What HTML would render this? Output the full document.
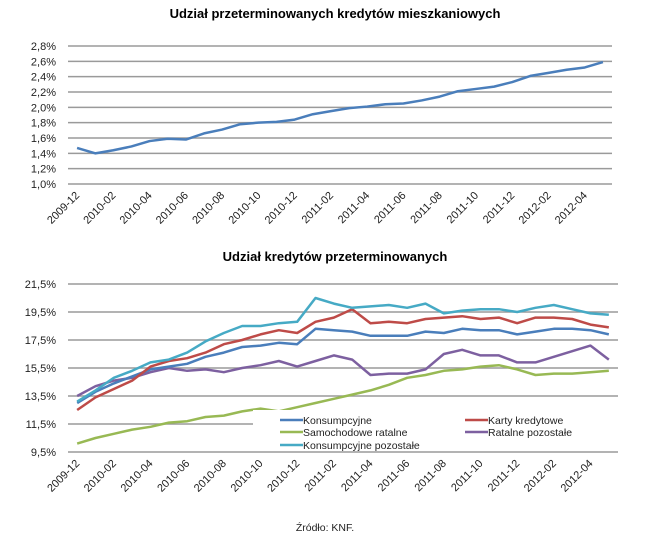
<!DOCTYPE html>
<html><head><meta charset="utf-8"><style>
body{margin:0;background:#fff;}
svg{display:block;font-family:"Liberation Sans",sans-serif;}
</style></head><body>
<svg id="c" width="670" height="546"></svg>
<script>
const cats=["2009-12","2010-01","2010-02","2010-03","2010-04","2010-05","2010-06","2010-07","2010-08","2010-09","2010-10","2010-11","2010-12","2011-01","2011-02","2011-03","2011-04","2011-05","2011-06","2011-07","2011-08","2011-09","2011-10","2011-11","2011-12","2012-01","2012-02","2012-03","2012-04","2012-05"];
const mortgage=[1.47,1.40,1.44,1.49,1.56,1.59,1.58,1.66,1.71,1.78,1.80,1.81,1.84,1.91,1.95,1.99,2.01,2.04,2.05,2.09,2.14,2.21,2.24,2.27,2.33,2.41,2.45,2.49,2.52,2.59];
const topTicks=[1.0,1.2,1.4,1.6,1.8,2.0,2.2,2.4,2.6,2.8];
const konsumpcyjne=[13.0,13.8,14.4,14.9,15.4,15.6,15.8,16.3,16.6,17.0,17.1,17.3,17.2,18.3,18.2,18.1,17.8,17.8,17.8,18.1,18.0,18.3,18.2,18.2,17.9,18.1,18.3,18.3,18.2,17.9];
const karty=[12.5,13.4,14.0,14.6,15.6,16.0,16.2,16.6,17.2,17.5,17.9,18.2,18.0,18.8,19.1,19.7,18.7,18.8,18.7,19.0,19.1,19.2,19.0,19.1,18.7,19.1,19.1,19.0,18.6,18.4];
const samochodowe=[10.1,10.5,10.8,11.1,11.3,11.6,11.7,12.0,12.1,12.4,12.6,12.4,12.7,13.0,13.3,13.6,13.9,14.3,14.8,15.0,15.3,15.4,15.6,15.7,15.4,15.0,15.1,15.1,15.2,15.3];
const ratalne=[13.5,14.2,14.6,14.8,15.2,15.5,15.3,15.4,15.2,15.5,15.7,16.0,15.6,16.0,16.4,16.1,15.0,15.1,15.1,15.4,16.5,16.8,16.4,16.4,15.9,15.9,16.3,16.7,17.1,16.1];
const konsPoz=[13.1,13.9,14.8,15.3,15.9,16.1,16.6,17.4,18.0,18.5,18.5,18.7,18.8,20.5,20.1,19.8,19.9,20.0,19.8,20.1,19.4,19.6,19.7,19.7,19.5,19.8,20.0,19.7,19.4,19.3];
const botTicks=[9.5,11.5,13.5,15.5,17.5,19.5,21.5];

const svg=document.getElementById('c');const NS="http://www.w3.org/2000/svg";
function mk(t,a,txt){const e=document.createElementNS(NS,t);for(const k in a)e.setAttribute(k,a[k]);if(txt!==undefined)e.textContent=txt;svg.appendChild(e);return e;}
function fmt(v,d){return v.toFixed(d).replace('.',',')+'%';}

function chart(o){
  const xs=i=>o.x0+(o.x1-o.x0)*(i+0.5)/cats.length;
  const ys=v=>o.y1-(v-o.vmin)/(o.vmax-o.vmin)*(o.y1-o.y0);
  o.ticks.forEach(t=>{
    const g=mk('line',{x1:o.x0,x2:o.x1,y1:ys(t),y2:ys(t),stroke:'#9a9a9a','stroke-width':1.5});
    
    
    const l=mk('text',{x:o.x0-12,y:ys(t)+4,'text-anchor':'end','font-size':11,fill:'#222'},fmt(t,o.dec));
    
    
  });
  cats.forEach((c,i)=>{if(i%2)return;
    const x=xs(i)+3,y=o.y1+12;
    const l=mk('text',{x:x,y:y,'text-anchor':'end','font-size':11,fill:'#222',transform:`rotate(-45 ${x} ${y})`},c);
    
    
  });
  return {xs,ys};
}
function line(ax,vals,color,name){
  const p=mk('polyline',{points:vals.map((v,i)=>ax.xs(i)+','+ax.ys(v)).join(' '),fill:'none',stroke:color,'stroke-width':2.5,'stroke-linejoin':'round'});
  
  
}

let t=mk('text',{x:335,y:18,'text-anchor':'middle','font-size':13,'font-weight':'bold'},'Udział przeterminowanych kredytów mieszkaniowych');


const topAx=chart({x0:68,x1:612,y0:46,y1:184,vmin:1.0,vmax:2.8,ticks:topTicks,dec:1});
line(topAx,mortgage,'#4a7ebb','mortgage-line');

t=mk('text',{x:335,y:261,'text-anchor':'middle','font-size':13,'font-weight':'bold'},'Udział kredytów przeterminowanych');


const botAx=chart({x0:68,x1:618,y0:284,y1:452,vmin:9.5,vmax:21.5,ticks:botTicks,dec:1});
line(botAx,samochodowe,'#98b954','samochodowe-ratalne-line');
line(botAx,ratalne,'#7d60a0','ratalne-pozostale-line');
line(botAx,konsumpcyjne,'#4a7ebb','konsumpcyjne-line');
line(botAx,karty,'#be4b48','karty-kredytowe-line');
line(botAx,konsPoz,'#46aac5','konsumpcyjne-pozostale-line');

let bg=mk('rect',{x:253,y:410,width:365,height:37,fill:'#fff'});


const leg=[['Konsumpcyjne','#4a7ebb',280,420],['Karty kredytowe','#be4b48',465,420],['Samochodowe ratalne','#98b954',280,432],['Ratalne pozostałe','#7d60a0',465,432],['Konsumpcyjne pozostałe','#46aac5',280,445]];
leg.forEach(e=>{
  const l=mk('line',{x1:e[2],x2:e[2]+23,y1:e[3],y2:e[3],stroke:e[1],'stroke-width':2.5});
  
  
  const tx=mk('text',{x:e[2]+23,y:e[3]+4,'font-size':10.5,fill:'#222'},e[0]);
  
  
});
t=mk('text',{x:325,y:531,'text-anchor':'middle','font-size':10.5,fill:'#222'},'Źródło: KNF.');


</script>
</body></html>
